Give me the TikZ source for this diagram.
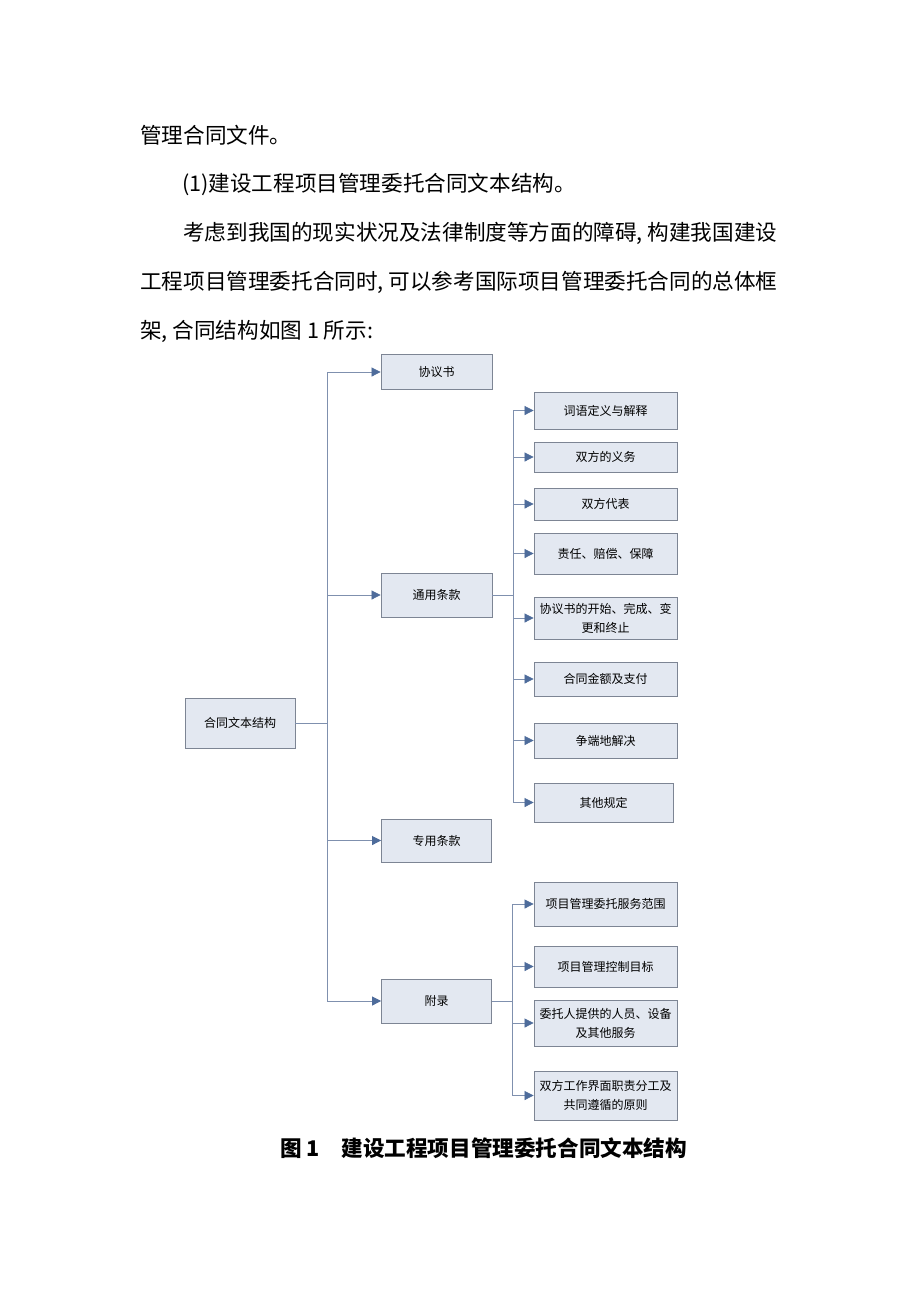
\documentclass[tikz,border=0pt]{standalone}
\usepackage{fontspec}
\setmainfont{Noto Sans CJK SC}
\usetikzlibrary{arrows.meta}
\definecolor{boxfill}{HTML}{E3E8F1}
\definecolor{boxline}{HTML}{7D8594}
\definecolor{linkgray}{HTML}{7F90AE}
\definecolor{tipblue}{HTML}{4E6C9B}
\tikzset{
  box/.style={draw=boxline,fill=boxfill,line width=0.8pt,align=center,
    inner sep=2pt,font=\fontsize{12}{19}\selectfont},
  link/.style={draw=linkgray,line width=0.7pt},
  arr/.style={link,-{Triangle[length=9pt,width=9pt,color=tipblue]}},
  body/.style={anchor=west,inner sep=0pt,font=\fontsize{21.6}{26}\selectfont}
}
\begin{document}
\begin{tikzpicture}[x=1pt,y=-1pt]
  \useasboundingbox[fill=white] (0,0) rectangle (920,1302);
  %text above the figure
  \node[body] (p1) at (140,135) {管理合同文件。};
  \node[body] (p2) at (182,184) {(1)建设工程项目管理委托合同文本结构。};
  \node[body] (p3) at (183,233) {考虑到我国的现实状况及法律制度等方面的障碍, 构建我国建设};
  \node[body] (p4) at (140,282) {工程项目管理委托合同时, 可以参考国际项目管理委托合同的总体框};
  \node[body] (p5) at (140,331) {架, 合同结构如图 1 所示:};
  %first level
  \node[box,minimum width=110,minimum height=50] (htwb) at (240,723) {合同文本结构};
  \node[box,minimum width=111,minimum height=35] (xys) at (436.5,372) {协议书};
  \node[box,minimum width=111,minimum height=44] (tytk) at (436.5,595) {通用条款};
  \node[box,minimum width=110,minimum height=43] (zytk) at (436.5,840.5) {专用条款};
  \node[box,minimum width=110,minimum height=44] (fl) at (436.5,1001) {附录};
  %general conditions
  \node[box,minimum width=143,minimum height=37] (ty1) at (605.5,410.5) {词语定义与解释};
  \node[box,minimum width=143,minimum height=30] (ty2) at (605.5,457) {双方的义务};
  \node[box,minimum width=143,minimum height=32] (ty3) at (605.5,504) {双方代表};
  \node[box,minimum width=143,minimum height=41] (ty4) at (605.5,553.5) {责任、赔偿、保障};
  \node[box,minimum width=143,minimum height=42,inner sep=1pt] (ty5) at (605.5,618) {协议书的开始、完成、变\\更和终止};
  \node[box,minimum width=143,minimum height=34] (ty6) at (605.5,679) {合同金额及支付};
  \node[box,minimum width=143,minimum height=35] (ty7) at (605.5,740.5) {争端地解决};
  \node[box,minimum width=139,minimum height=39] (ty8) at (603.5,802.5) {其他规定};
  %appendix
  \node[box,minimum width=143,minimum height=44] (fl1) at (605.5,904) {项目管理委托服务范围};
  \node[box,minimum width=143,minimum height=41] (fl2) at (605.5,966.5) {项目管理控制目标};
  \node[box,minimum width=143,minimum height=46,inner sep=1pt] (fl3) at (605.5,1023) {委托人提供的人员、设备\\及其他服务};
  \node[box,minimum width=143,minimum height=49] (fl4) at (605.5,1095.5) {双方工作界面职责分工及\\共同遵循的原则};
  %connectors
  \coordinate (t0) at (327,0);
  \coordinate (t1) at (513,0);
  \coordinate (t2) at (512,0);
  \draw[link] (htwb.east) -- (t0 |- htwb.east);
  \draw[link] (t0 |- xys) -- (t0 |- fl);
  \foreach \n in {xys,tytk,zytk,fl}
    \draw[arr] (t0 |- \n) -- (\n.west);
  \draw[link] (tytk.east) -- (t1 |- tytk.east);
  \draw[link] (t1 |- ty1) -- (t1 |- ty8);
  \foreach \n in {ty1,ty2,ty3,ty4,ty5,ty6,ty7,ty8}
    \draw[arr] (t1 |- \n) -- (\n.west);
  \draw[link] (fl.east) -- (t2 |- fl.east);
  \draw[link] (t2 |- fl1) -- (t2 |- fl4);
  \foreach \n in {fl1,fl2,fl3,fl4}
    \draw[arr] (t2 |- \n) -- (\n.west);
  %caption
  \node[body,font=\fontsize{21.6}{26}\selectfont\bfseries] (cap) at (280,1148)
    {图 1\quad 建设工程项目管理委托合同文本结构};
\end{tikzpicture}
\end{document}
